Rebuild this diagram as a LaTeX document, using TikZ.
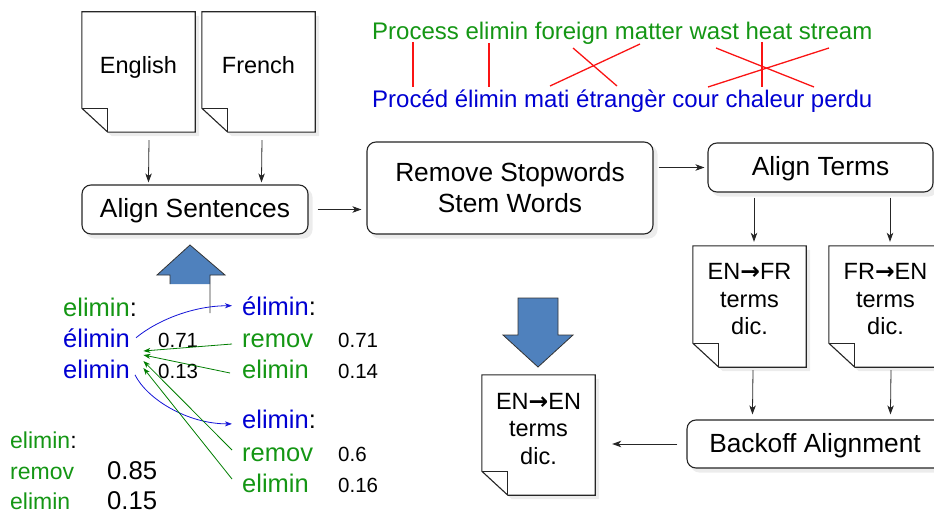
\documentclass[tikz,border=0pt]{standalone}
\usepackage{fontspec}
\setmainfont{Liberation Sans}
\newfontfamily\arrowfont{DejaVu Sans}
\usetikzlibrary{arrows.meta,calc}
\pgfdeclarelayer{background}
\pgfsetlayers{background,main}
\definecolor{tgreen}{RGB}{20,150,20}
\definecolor{tblue}{RGB}{0,0,210}
\definecolor{agreen}{RGB}{0,125,0}
\definecolor{ablue}{RGB}{20,20,215}
\definecolor{bigblue}{RGB}{79,129,189}
\definecolor{shadowc}{RGB}{236,236,236}
\definecolor{lred}{RGB}{250,20,20}
\newcommand\fsBox{\fontsize{26.3}{32}\selectfont}
\newcommand\fsDoc{\fontsize{23.5}{27.5}\selectfont}
\newcommand\fsWord{\fontsize{25.5}{30}\selectfont}
\newcommand\fsNum{\fontsize{20.5}{24}\selectfont}
\newcommand\fsLow{\fontsize{23}{27}\selectfont}
\newcommand\fsLowNum{\fontsize{25.7}{30}\selectfont}
\newcommand\fsTop{\fontsize{24}{28}\selectfont}
\newcommand\docarrow{{\arrowfont\bfseries →}}
\tikzset{
  procbox/.style={draw=black!85, line width=1.1pt, rounded corners=9pt, fill=white, inner sep=0pt, font=\fsBox, align=center},
  oneline/.style={text height=18.5pt, text depth=1.5pt},
  boxtext/.style={font=\fsBox, align=center, anchor=base, inner sep=0pt},
  docnode/.style={inner sep=0pt, minimum width=113pt, minimum height=120pt},
  docline/.style={draw=black!85, line width=1.1pt, fill=white, line join=miter},
  foldline/.style={draw=black!85, line width=1.1pt},
  doctext/.style={font=\fsDoc, align=center, anchor=base, inner sep=0pt},
  arr/.style={draw=black!85, line width=0.8pt, -{Stealth[length=9pt,width=6.5pt,inset=2.5pt]}},
  word/.style={anchor=base west, inner sep=0pt, font=\fsWord},
  num/.style={anchor=base west, inner sep=0pt, font=\fsNum},
  garr/.style={draw=agreen, line width=0.8pt, -{Stealth[length=7pt,width=5pt,inset=2pt]}},
  barr/.style={draw=ablue, line width=0.8pt, -{Stealth[length=7pt,width=5pt,inset=2pt]}},
  redline/.style={draw=lred, line width=1.3pt},
  bigarrow/.style={fill=bigblue, draw=black!80, line width=0.8pt, line join=miter},
  shadowfill/.style={fill=shadowc},
}
\newcommand\docoutline[1]{%
  \begin{pgfonlayer}{background}
    \fill[shadowfill] ($(#1.north west)+(4,4)$) -- ($(#1.north east)+(4,4)$) -- ($(#1.south east)+(4,4)$) -- ($(#1.south west)+(30,4)$) -- ($(#1.south west)+(4,-20)$) -- cycle;
  \end{pgfonlayer}
  \path[docline] (#1.north west) -- (#1.north east) -- (#1.south east) -- ($(#1.south west)+(26,0)$) -- ($(#1.south west)+(0,-24)$) -- cycle;
  \draw[foldline] ($(#1.south west)+(0,-24)$) -- ($(#1.south west)+(26,-24)$) -- ($(#1.south west)+(26,0)$);
}
\newcommand\boxshadow[1]{%
  \begin{pgfonlayer}{background}
    \fill[shadowfill, rounded corners=9pt] ($(#1.north west)+(4,4)$) rectangle ($(#1.south east)+(4,4)$);
  \end{pgfonlayer}
}
\begin{document}
\begin{tikzpicture}[x=1pt,y=-1pt]
\useasboundingbox (0,0) rectangle (934,513);

% documents
\node[docnode] (eng) at (138.5,72) {};
\docoutline{eng}
\node[doctext] (engt) at (138.5,74) {English};
\node[docnode] (fre) at (258.5,72) {};
\docoutline{fre}
\node[doctext] (fret) at (258.5,74) {French};
\node[docnode, minimum height=121pt] (enfr) at (749.5,306.5) {};
\docoutline{enfr}
\node[doctext] (enfrt) at (749.5,334.5) {EN\docarrow FR\\terms\\dic.};
\node[docnode, minimum height=121pt] (fren) at (885.5,306.5) {};
\docoutline{fren}
\node[doctext] (frent) at (885.5,334.5) {FR\docarrow EN\\terms\\dic.};
\node[docnode] (enen) at (538.5,435) {};
\docoutline{enen}
\node[doctext] (enent) at (538.5,464) {EN\docarrow EN\\terms\\dic.};

% process boxes
\node[procbox, oneline, minimum width=226pt, minimum height=49pt] (as) at (195,209.5) {Align Sentences};
\boxshadow{as}
\node[procbox, minimum width=286pt, minimum height=92pt] (rm) at (510,188) {};
\boxshadow{rm}
\node[boxtext] (rmt) at (510,213) {Remove Stopwords\\Stem Words};
\node[procbox, oneline, minimum width=225pt, minimum height=49pt] (at) at (820.5,167.5) {Align Terms};
\boxshadow{at}
\node[procbox, oneline, minimum width=256pt, minimum height=48pt] (bo) at (815,444) {Backoff Alignment};
\boxshadow{bo}

% flow arrows
\draw[arr] ($(eng.south)+(10.5,8)$) -- ($(as.north west)+(67,-2)$);
\draw[arr] ($(fre.south)+(3.5,8)$) -- ($(as.north west)+(180,-2)$);
\draw[arr, shorten <=9pt, shorten >=5pt] (as.east) -- (as.east -| rm.west);
\draw[arr, shorten <=5pt, shorten >=3pt] (at.west -| rm.east) -- (at.west);
\draw[arr] ($(at.south)+(-66.5,5)$) -- ($(enfr.north)+(4.5,-4)$);
\draw[arr] ($(at.south)+(69.5,5)$) -- ($(fren.north)+(4.5,-4)$);
\draw[arr] ($(enfr.south)+(3.5,3)$) -- ($(bo.north west)+(66,-5)$);
\draw[arr] ($(fren.south)+(5.5,3)$) -- ($(bo.north west)+(204,-5)$);
\draw[arr, shorten <=9pt, shorten >=17pt] (bo.west) -- (bo.west -| enen.east);

% top sentence pair
\node[anchor=base west, inner sep=0pt, font=\fsTop, text=tgreen] (tg) at (372,40) {Process elimin foreign matter wast heat stream};
\node[anchor=base west, inner sep=0pt, font=\fsTop, text=tblue] (tb) at (372,108) {Procéd élimin mati étrangèr cour chaleur perdu};
\draw[redline] (413,42) -- (413,87);
\draw[redline] (489,43) -- (489,87);
\draw[redline] (573,48) -- (617,86);
\draw[redline] (550,86) -- (640,44);
\draw[redline] (716,48) -- (814,87);
\draw[redline] (708,87) -- (829,48);
\draw[redline] (762,42) -- (762,87);

% big blue arrows
\fill[bigblue] (170,284) -- (170,275) -- (157,275) -- (190,245) -- (225,275) -- (210,275) -- (210,284) -- cycle;
\draw[draw=black!80, line width=0.8pt, line join=miter] (170,284) -- (170,275) -- (157,275) -- (190,245) -- (225,275) -- (210,275) -- (210,313);
\filldraw[bigarrow] (518,298) -- (558,298) -- (558,335) -- (573,335) -- (538,367) -- (503,335) -- (518,335) -- cycle;

% term alignment example
\node[word] (l0) at (63,316) {\textcolor{tgreen}{elimin}:};
\node[word, text=tblue] (l1) at (63,347) {élimin};
\node[num] (n1) at (158,347) {0.71};
\node[word, text=tblue] (l2) at (63,378) {elimin};
\node[num] (n2) at (158,378) {0.13};

\node[word] (r0) at (242,315) {\textcolor{tblue}{élimin}:};
\node[word, text=tgreen] (r1) at (242,347) {remov};
\node[num] (m1) at (338,347) {0.71};
\node[word, text=tgreen] (r2) at (242,378) {elimin};
\node[num] (m2) at (338,378) {0.14};

\node[word] (s0) at (242,428) {\textcolor{tblue}{elimin}:};
\node[word, text=tgreen] (s1) at (242,461) {remov};
\node[num] (k1) at (338,461) {0.6};
\node[word, text=tgreen] (s2) at (242,492) {elimin};
\node[num] (k2) at (338,492) {0.16};

\node[word, font=\fsLow] (b0) at (10,448) {\textcolor{tgreen}{elimin}:};
\node[word, font=\fsLow, text=tgreen] (b1) at (10,479) {remov};
\node[num, font=\fsLowNum] (c1) at (107,479) {0.85};
\node[word, font=\fsLow, text=tgreen] (b2) at (10,509) {elimin};
\node[num, font=\fsLowNum] (c2) at (107,509) {0.15};

\draw[barr] ([xshift=6pt]l1.east) .. controls +(22,-18) and +(-38,0) .. ([xshift=-10pt]r0.west);
\draw[barr] ([xshift=5pt,yshift=-6pt]l2.east) .. controls +(12,24) and +(-45,0) .. ([xshift=-10pt,yshift=-5pt]s0.west);
\draw[garr] ([xshift=-10pt,yshift=3pt]r1.base west) -- ([xshift=13.4pt,yshift=-4pt]l1.base east);
\draw[garr] ([xshift=-12pt,yshift=5pt]r2.base west) -- ([xshift=13.4pt,yshift=-8pt]l1.base east);
\draw[garr] ([xshift=-10pt,yshift=11pt]s1.base west) -- ([xshift=13.4pt,yshift=-14pt]l1.base east);
\draw[garr] ([xshift=-10pt,yshift=13pt]s2.base west) -- ([xshift=13.4pt,yshift=10pt]l2.base east);
\end{tikzpicture}
\end{document}
